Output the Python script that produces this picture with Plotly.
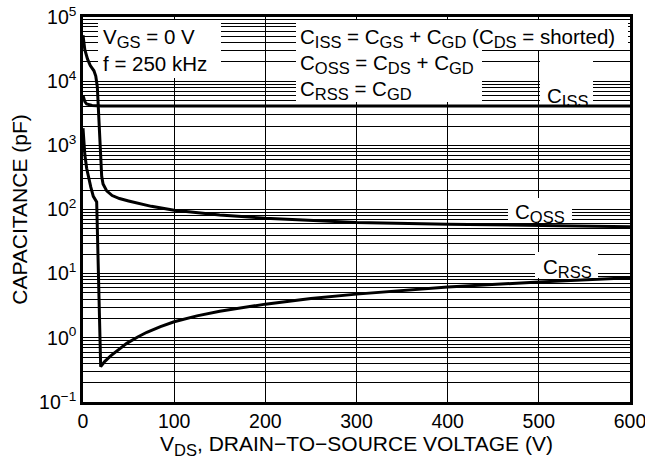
import plotly.graph_objects as go

# ---------------- data ----------------
vds_ciss = [0, 1, 2, 4, 7, 10, 20, 50, 100, 200, 300, 400, 500, 600]
ciss = [6000, 5300, 4800, 4400, 4250, 4180, 4120, 4100, 4100, 4100, 4100, 4100, 4100, 4100]

vds_coss = [0, 1, 2, 5, 8, 12, 14, 15.7, 17, 18, 19.2, 20.5, 22, 26, 32, 40, 50,
            75, 100, 150, 200, 300, 400, 500, 600]
coss = [52000, 40000, 31000, 22000, 17500, 14500, 12000, 8200, 3100, 1500, 650, 330, 250,
        195, 165, 148, 136, 112, 97, 82, 73, 63, 59, 56, 54]

vds_crss = [0, 2, 4, 6, 8.5, 11.3, 13.5, 15, 19.4, 24, 30, 40, 48, 60, 70, 85, 100,
            125, 150, 200, 250, 300, 400, 500, 600]
crss = [1850, 720, 440, 320, 225, 160, 140, 131, 0.355, 0.43, 0.52, 0.67, 0.82, 1.03,
        1.22, 1.5, 1.78, 2.2, 2.6, 3.35, 4.1, 4.8, 6.2, 7.4, 8.6]

x_ticks = [0, 100, 200, 300, 400, 500, 600]
y_tick_exps = [-1, 0, 1, 2, 3, 4, 5]

FONT = "Liberation Sans"
FS_TICK = 19.5
FS_TITLE = 21
FS_ANN = 20.5
SUB = 16.5

# ---------------- figure ----------------
W, H = 645, 460
ML, MR, MT, MB = 83, 15, 17, 58
PW, PH = W - ML - MR, H - MT - MB


def sub(s):
    return '<sub><span style="font-size:%gpx">%s</span></sub>' % (SUB, s)


fig = go.Figure()
for xs, ys in [(vds_ciss, ciss), (vds_coss, coss), (vds_crss, crss)]:
    fig.add_trace(go.Scatter(x=xs, y=ys, mode="lines",
                             line=dict(color="black", width=3),
                             showlegend=False, hoverinfo="skip"))

minor_vals = [k * 10.0 ** e for e in range(-1, 5) for k in range(2, 10)]

fig.update_layout(
    width=W, height=H,
    margin=dict(l=ML, r=MR, t=MT, b=MB, autoexpand=False),
    paper_bgcolor="white", plot_bgcolor="white",
    font=dict(family=FONT, size=FS_TICK, color="black"),
    xaxis=dict(
        range=[0, 600], tickvals=x_ticks, ticktext=[str(v) for v in x_ticks],
        showgrid=True, gridcolor="black", gridwidth=1, zeroline=False,
        showline=True, mirror=True, linecolor="black", linewidth=2.5,
        ticks="", tickfont=dict(size=FS_TICK), automargin=False,
        ticklabeloverflow="allow",
        title=dict(text="V" + sub("DS") + ", DRAIN\u2212TO\u2212SOURCE VOLTAGE (V)",
                   font=dict(size=FS_TITLE), standoff=6),
    ),
    yaxis=dict(
        type="log", range=[-1, 5],
        tickvals=[10.0 ** e for e in y_tick_exps],
        ticktext=["10<sup>%s</sup>" % (str(e).replace("-", "\u2212")) for e in y_tick_exps],
        showgrid=True, gridcolor="black", gridwidth=1, zeroline=False,
        showline=True, mirror=True, linecolor="black", linewidth=2.5,
        ticks="", tickfont=dict(size=FS_TICK), automargin=False,
        ticklabeloverflow="allow",
        minor=dict(tickvals=minor_vals, showgrid=True, gridcolor="black",
                   gridwidth=1, ticks=""),
        title=dict(text="CAPACITANCE (pF)", font=dict(size=FS_TITLE), standoff=6),
    ),
)


def px_x(px):
    return (px - ML) / PW


def px_y(py):
    return (H - MB - py) / PH


def box(x0, x1, y0, y1):
    fig.add_shape(type="rect", xref="paper", yref="paper",
                  x0=px_x(x0), x1=px_x(x1), y0=px_y(y1), y1=px_y(y0),
                  fillcolor="white", line=dict(width=0), layer="above")


def text(t, x, y, xanchor="left"):
    fig.add_annotation(text=t, xref="paper", yref="paper",
                       x=px_x(x), y=px_y(y), xanchor=xanchor, yanchor="middle",
                       showarrow=False,
                       font=dict(family=FONT, size=FS_ANN, color="black"))


# white boxes hiding the grid behind the notes
box(98, 221, 20, 78)
box(296, 628, 20, 50)
box(296, 482, 50, 102)
box(540, 593, 52, 104)
box(508, 572, 198, 222)
box(535, 598, 252, 278)

text("V" + sub("GS") + " = 0 V", 101, 38)
text("f = 250 kHz", 101, 63)
text("C" + sub("ISS") + " = C" + sub("GS") + " + C" + sub("GD")
     + " (C" + sub("DS") + " = shorted)", 298, 38)
text("C" + sub("OSS") + " = C" + sub("DS") + " + C" + sub("GD"), 298, 64)
text("C" + sub("RSS") + " = C" + sub("GD"), 298, 90)
text("C" + sub("ISS"), 567, 97, xanchor="center")
text("C" + sub("OSS"), 540, 213, xanchor="center")
text("C" + sub("RSS"), 567, 268, xanchor="center")

fig.write_html("out.html", config={"displayModeBar": False},
               post_script="document.body.style.margin='0px';")
